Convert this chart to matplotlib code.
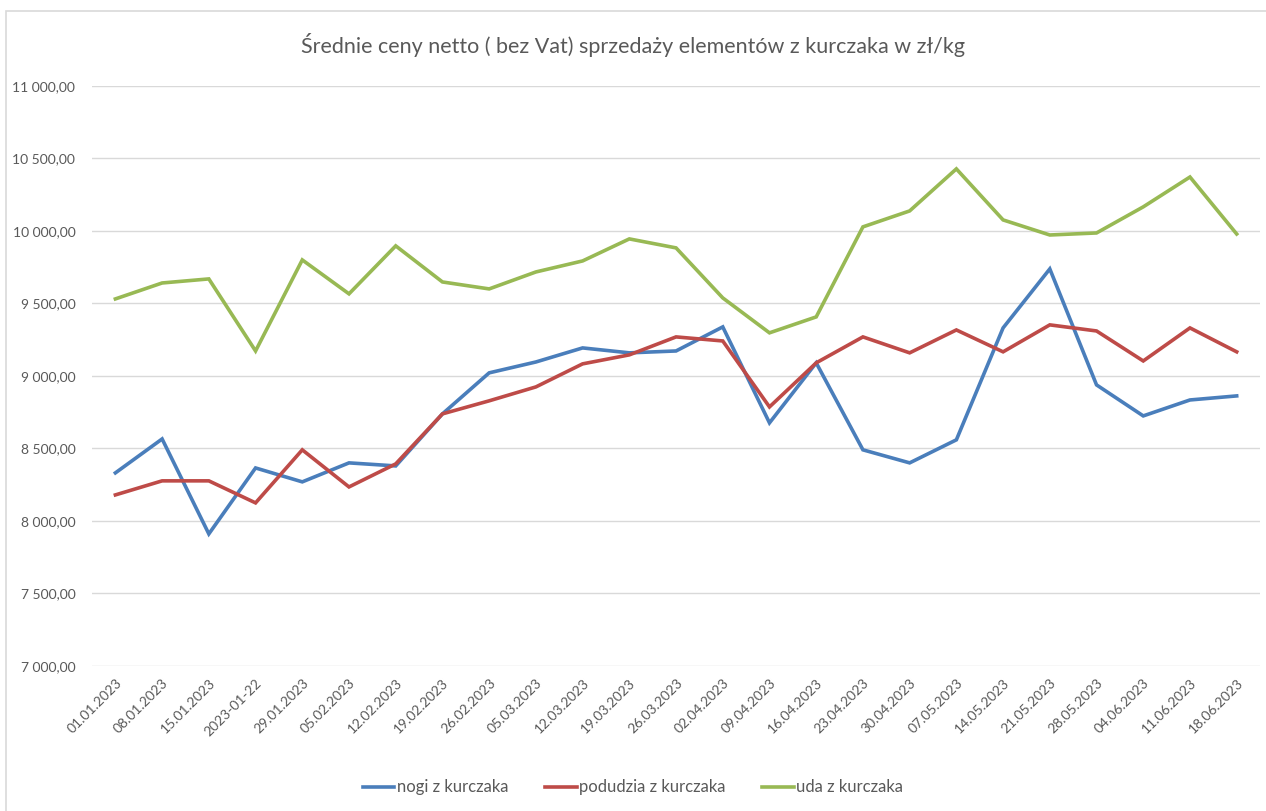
import matplotlib.pyplot as plt
from matplotlib.patches import Rectangle
from matplotlib.ticker import FuncFormatter

dates = ['01.01.2023', '08.01.2023', '15.01.2023', '2023-01-22', '29.01.2023',
         '05.02.2023', '12.02.2023', '19.02.2023', '26.02.2023', '05.03.2023',
         '12.03.2023', '19.03.2023', '26.03.2023', '02.04.2023', '09.04.2023',
         '16.04.2023', '23.04.2023', '30.04.2023', '07.05.2023', '14.05.2023',
         '21.05.2023', '28.05.2023', '04.06.2023', '11.06.2023', '18.06.2023']

nogi = [8331, 8565, 7910, 8365, 8269, 8400, 8379, 8738, 9021, 9096,
        9193, 9159, 9172, 9338, 8676, 9090, 8490, 8400, 8559, 9331,
        9738, 8938, 8724, 8834, 8862]

podudzia = [8179, 8276, 8276, 8124, 8490, 8234, 8393, 8738, 8828, 8924,
            9083, 9145, 9269, 9241, 8786, 9090, 9269, 9159, 9317, 9166,
            9352, 9310, 9103, 9331, 9166]

uda = [9531, 9641, 9669, 9172, 9800, 9566, 9897, 9648, 9600, 9717,
       9793, 9945, 9883, 9538, 9297, 9407, 10028, 10138, 10428, 10076,
       9972, 9986, 10166, 10372, 9979]

series = [('nogi z kurczaka', nogi, '#4A7EBB'),
          ('podudzia z kurczaka', podudzia, '#BE4B48'),
          ('uda z kurczaka', uda, '#98B954')]

plt.rcParams['font.family'] = ['Lato', 'DejaVu Sans']
txt = '#595959'

fig = plt.figure(figsize=(12.66, 8.11), dpi=100)
ax = fig.add_axes([0.0727, 0.179, 0.9226, 0.715])

x = range(len(dates))
for name, vals, col in series:
    ax.plot(x, vals, color=col, lw=2.6, label=name, solid_joinstyle='miter')

ax.set_xlim(-0.5, len(dates) - 0.5)
ax.set_ylim(7000, 11000)
ax.set_yticks(range(7000, 11001, 500))
ax.yaxis.set_major_formatter(FuncFormatter(
    lambda v, p: '{:,.2f}'.format(v).replace(',', ' ').replace('.', ',')))
ax.set_xticks(list(x))
ax.set_xticklabels(dates, rotation=45, ha='right', va='top', rotation_mode='anchor')
ax.tick_params(axis='both', length=0, colors=txt, labelsize=10)
ax.tick_params(axis='x', pad=8)
ax.tick_params(axis='y', pad=12)
ax.grid(axis='y', color='#D9D9D9', lw=1)
ax.set_axisbelow(True)
for s in ax.spines.values():
    s.set_visible(False)

fig.text(0.5, 0.944, 'Średnie ceny netto ( bez Vat) sprzedaży elementów z kurczaka w zł/kg',
         ha='center', va='center', fontsize=15.5, color=txt)

fig.legend(loc='center', bbox_to_anchor=(0.5, 0.029), ncol=3, frameon=False,
           fontsize=12, labelcolor=txt, handlelength=1.9, handletextpad=0.15,
           columnspacing=2.2)

fig.patches.append(Rectangle((0.005, -0.01), 1.0, 0.996, transform=fig.transFigure,
                             fill=False, edgecolor='#D9D9D9', lw=1.2))

fig.savefig('out.png', dpi=100)
